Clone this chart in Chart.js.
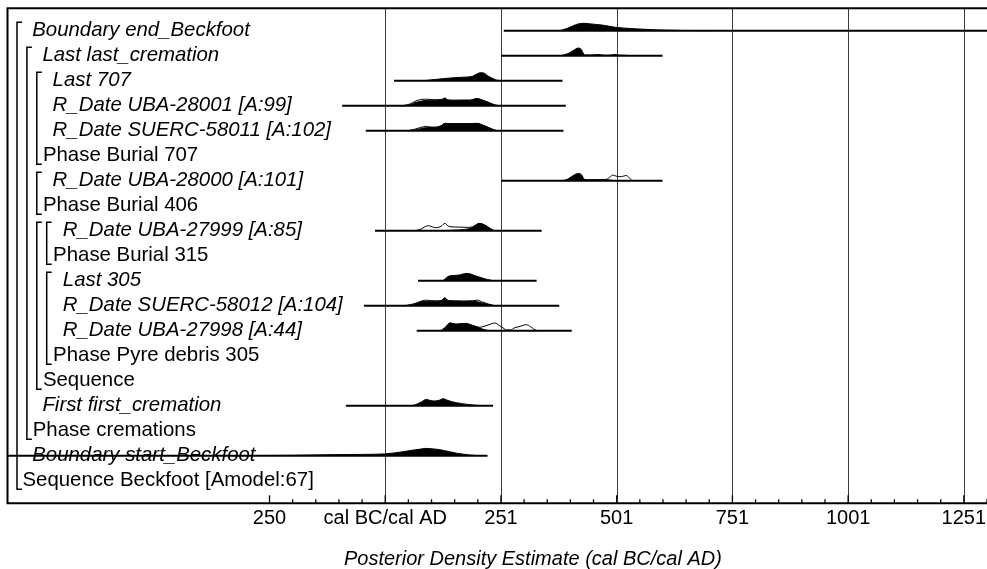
<!DOCTYPE html>
<html lang="en">
<head>
<meta charset="UTF-8">
<title>Beckfoot</title>
<script src="https://cdn.jsdelivr.net/npm/chart.js"></script>
<style>
  html, body { margin: 0; padding: 0; background: #fff; }
  #wrap { width: 987px; height: 569px; }
</style>
</head>
<body>
<div id="wrap"><canvas id="myChart" width="987" height="569"></canvas></div>
<script>
// rows, top to bottom
const rowNames = ["Boundary end_Beckfoot", "Last last_cremation", "Last 707", "R_Date UBA-28001 [A:99]",
  "R_Date SUERC-58011 [A:102]", "Phase Burial 707", "R_Date UBA-28000 [A:101]", "Phase Burial 406",
  "R_Date UBA-27999 [A:85]", "Phase Burial 315", "Last 305", "R_Date SUERC-58012 [A:104]",
  "R_Date UBA-27998 [A:44]", "Phase Pyre debris 305", "Sequence", "First first_cremation",
  "Phase cremations", "Boundary start_Beckfoot", "Sequence Beckfoot [Amodel:67]"];
const rowKind = ["item", "item", "item", "item", "item", "group", "item", "group", "item", "group",
  "item", "item", "item", "group", "group", "item", "group", "item", "group"];
const rowDepth = [1, 2, 3, 3, 3, 2, 3, 2, 4, 3, 4, 4, 4, 3, 2, 2, 1, 1, 0];
// brackets: first row, last row, depth
const groupSpans = [[0, 18, 0], [1, 16, 1], [2, 5, 2], [6, 7, 2], [8, 14, 2], [8, 9, 3], [10, 13, 3]];

// range lines (calendar year, 1 BC = 0)
const rangeStart = [257, 252, 20, -92, -41, null, 252, null, -21, null, 72, -45, 69, null, null, -84, null, -815, null];
const rangeEnd = [1301, 600, 384, 391, 386, null, 600, null, 339, null, 328, 377, 404, null, null, 234, null, 222, null];

// posterior densities [year, relative height]
const postEnd = [[378,0],[395,2.5],[410,5.5],[420,7],[429,7.4],[445,6.8],[470,5.6],[497,3.5],[530,2.2],[579,1],[640,0.3],[700,0]];
const postLastCrem = [[380,0],[395,2],[405,4.5],[413,6.8],[418,7.7],[424,6.5],[429,2.5],[433,0.8],[445,0.7],[460,1.2],[475,0.5],[490,0.8],[497,1.3],[505,0.7],[520,0.4],[535,0]];
const postLast707 = [[85,0],[100,0.8],[125,2],[150,3],[170,3.5],[190,4.5],[200,7],[207,8],[215,7.5],[222,5],[232,2.5],[242,0.5],[252,0]];
const post28001 = [[40,0],[55,1],[65,3],[76,4.3],[90,5.3],[110,5.5],[125,6.5],[130,7.7],[136,5.5],[150,5.3],[170,5.5],[185,5.5],[195,6.8],[201,7],[210,5.5],[225,3],[238,0.5],[245,0]];
const post58011 = [[55,0],[70,1],[80,2.5],[90,3],[100,3.2],[112,3.5],[122,5],[130,7.3],[145,7],[160,7],[175,7],[190,7.2],[200,7.3],[212,5.5],[225,3],[238,0.5],[245,0]];
const post28000 = [[380,0],[390,0.5],[400,3],[410,6],[418,7.3],[425,6],[431,1.5],[440,0.8],[460,1],[478,1],[490,0.4],[500,0.2],[520,0]];
const post27999 = [[120,0],[140,0.3],[160,0.8],[180,1.8],[190,3.5],[198,6],[204,7.3],[212,6.5],[222,4],[230,1.5],[236,0]];
const postLast305 = [[125,0],[130,1.5],[136,4],[142,5],[150,5.3],[162,5.8],[172,7],[178,7.3],[185,6.8],[192,5.5],[202,4],[212,2.5],[222,1.2],[234,0]];
const post58012 = [[45,0],[60,1],[70,2.5],[82,4.3],[95,4.5],[110,4.5],[122,5],[130,7.7],[137,5],[150,4.7],[170,4.5],[190,4.5],[200,4],[212,2.5],[225,1],[236,0]];
const post27998 = [[125,0],[131,3],[137,6.5],[141,7.7],[148,7],[155,6.5],[165,7],[175,7.3],[185,6],[198,4],[206,2.5],[212,1.5],[220,0.5],[230,0]];
const postFirstCrem = [[55,0],[65,0.8],[78,3.5],[90,6.3],[100,5],[108,4.7],[118,5.5],[126,7],[135,5.5],[145,4],[155,3],[170,1.8],[184,1],[198,0.4],[212,0]];
const postStart = [[-330,0],[-200,0.4],[-118,1],[-50,1.3],[0,1.8],[40,4],[60,5.5],[76,6.5],[87,7.3],[100,7],[119,6],[140,4],[155,2.5],[170,1.5],[184,0.7],[198,0.2],[210,0]];

// likelihoods (unmodelled)
const like28001 = [[35,0],[50,1],[60,3],[70,5.2],[80,6.3],[92,6.5],[105,6],[115,6],[125,6.5],[130,7.5],[136,5.8],[150,5.5],[170,5.5],[185,5.5],[195,6.8],[201,7],[210,5.8],[225,3.2],[238,0.8],[250,0]];
const like58011 = [[50,0],[65,1.5],[78,3.3],[90,4.3],[100,3.6],[112,3.5],[122,5],[130,7.3],[145,7],[160,7],[175,7],[190,7.2],[200,7.3],[212,5.5],[225,3],[238,0.5],[245,0]];
const like28000 = [[380,0],[400,0.8],[418,1.2],[435,0.8],[460,1],[478,1.2],[486,3.5],[493,5.7],[500,4.5],[508,4],[515,4.5],[522,5.2],[528,3],[534,0]];
const like27999 = [[65,0],[78,1.5],[87,4],[94,5],[103,3.8],[112,3],[122,4.5],[130,7.3],[136,5],[141,4],[160,3.6],[180,3.3],[190,4],[198,6],[204,7.3],[212,6.5],[222,4],[230,1.5],[236,0]];
const like58012 = [[40,0],[55,1],[70,3],[82,5],[90,5.5],[100,5],[112,4.8],[122,5.2],[130,7.7],[137,5],[150,4.8],[170,4.6],[190,5],[200,5.5],[212,3.5],[225,1.5],[238,0]];
const like27998 = [[120,0],[131,3.5],[137,6.5],[141,7.7],[148,7],[155,6.5],[165,7],[175,7.3],[185,6],[198,4],[205,3.5],[212,4],[225,6],[238,7.7],[248,5],[258,2],[263,0.8],[272,0.8],[281,3],[290,4],[306,6],[315,4],[322,1.5],[328,0]];

const posteriorRows = [[0, postEnd], [1, postLastCrem], [2, postLast707], [3, post28001], [4, post58011],
  [6, post28000], [8, post27999], [10, postLast305], [11, post58012], [12, post27998], [15, postFirstCrem], [17, postStart]];
const likelihoodRows = [[3, like28001], [4, like58011], [6, like28000], [8, like27999], [11, like58012], [12, like27998]];

// x axis
const majorTicks = [-249, 1, 251, 501, 751, 1001, 1251];
const tickLabels = ["250", "cal BC/cal AD", "251", "501", "751", "1001", "1251"];
const axisTitle = "Posterior Density Estimate (cal BC/cal AD)";

const heightUnit = 1 / 25; // density unit -> row units
const FONT = "'Liberation Sans', Arial, Helvetica, sans-serif";

function toPoints(pairs, row) {
  return pairs.map(p => ({ x: p[0], y: row - p[1] * heightUnit }));
}

const datasets = [];
likelihoodRows.forEach(r => {
  datasets.push({
    data: toPoints(r[1], r[0]), borderColor: "#000", borderWidth: 1, fill: false,
    pointRadius: 0, cubicInterpolationMode: "monotone", order: 3
  });
});
posteriorRows.forEach(r => {
  datasets.push({
    data: toPoints(r[1], r[0]), borderColor: "#000", backgroundColor: "#000", borderWidth: 1,
    fill: { value: r[0] }, pointRadius: 0, cubicInterpolationMode: "monotone", order: 2
  });
});
rangeStart.forEach((s, i) => {
  if (s === null) return;
  datasets.push({
    data: [{ x: s, y: i }, { x: rangeEnd[i], y: i }], borderColor: "#000", borderWidth: 2,
    fill: false, pointRadius: 0, order: 1
  });
});

const oxcalDecor = {
  id: "oxcalDecor",
  beforeDatasetsDraw(chart) {
    const { ctx, chartArea: a, scales: { x, y } } = chart;
    ctx.save();
    // grid lines
    ctx.strokeStyle = "#3c3c3c";
    ctx.lineWidth = 1;
    majorTicks.forEach(t => {
      if (t < 1) return;
      const px = Math.round(x.getPixelForValue(t)) + 0.5;
      ctx.beginPath(); ctx.moveTo(px, a.top); ctx.lineTo(px, a.bottom); ctx.stroke();
    });
    // row labels
    ctx.fillStyle = "#000";
    ctx.textBaseline = "alphabetic";
    ctx.textAlign = "left";
    rowNames.forEach((name, i) => {
      const italic = rowKind[i] === "item";
      ctx.font = (italic ? "italic " : "") + "20.4px " + FONT;
      const lx = a.left + 14.5 + 10.2 * rowDepth[i] + (italic ? 0 : 0.5);
      ctx.fillText(name, lx, y.getPixelForValue(i) + 5.5);
    });
    ctx.restore();
  },
  afterDatasetsDraw(chart) {
    const { ctx, chartArea: a, scales: { x, y } } = chart;
    ctx.save();
    ctx.strokeStyle = "#000";
    // brackets
    ctx.lineWidth = 1.5;
    groupSpans.forEach(g => {
      const bx = a.left + 9.5 + 9.9 * g[2];
      const top = y.getPixelForValue(g[0] - 0.34);
      const bot = y.getPixelForValue(g[1] + 0.34);
      ctx.beginPath();
      ctx.moveTo(bx + 5, top); ctx.lineTo(bx, top); ctx.lineTo(bx, bot); ctx.lineTo(bx + 5, bot);
      ctx.stroke();
    });
    // frame
    ctx.lineWidth = 2;
    ctx.beginPath();
    ctx.moveTo(a.right, a.top); ctx.lineTo(a.left, a.top); ctx.lineTo(a.left, a.bottom); ctx.lineTo(a.right, a.bottom);
    ctx.stroke();
    // ticks
    ctx.lineWidth = 1.3;
    for (let t = majorTicks[0]; t <= x.max; t += 50) {
      const px = x.getPixelForValue(t);
      const len = majorTicks.includes(t) ? 8 : 4;
      ctx.beginPath(); ctx.moveTo(px, a.bottom); ctx.lineTo(px, a.bottom - len); ctx.stroke();
    }
    // tick labels
    ctx.fillStyle = "#000";
    ctx.textAlign = "center";
    ctx.textBaseline = "alphabetic";
    ctx.font = "20px " + FONT;
    majorTicks.forEach((t, i) => {
      ctx.fillText(tickLabels[i], x.getPixelForValue(t), a.bottom + 21);
    });
    // axis title
    ctx.font = "italic 20px " + FONT;
    ctx.fillText(axisTitle, x.getPixelForValue(320), a.bottom + 62);
    ctx.restore();
  }
};

new Chart(document.getElementById("myChart"), {
  type: "line",
  data: { datasets: datasets },
  options: {
    responsive: false,
    animation: false,
    devicePixelRatio: 1,
    layout: { padding: { left: 7.5, top: 8.3, right: 0, bottom: 65.7 } },
    scales: {
      x: { type: "linear", min: -815, max: 1301, display: false },
      y: { type: "linear", min: -0.896, max: 18.904, reverse: true, display: false }
    },
    plugins: { legend: { display: false }, tooltip: { enabled: false } }
  },
  plugins: [oxcalDecor]
});
</script>
</body>
</html>
